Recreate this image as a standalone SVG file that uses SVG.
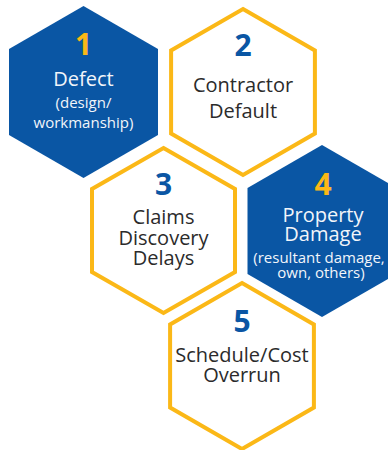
<svg xmlns="http://www.w3.org/2000/svg" width="388" height="450" viewBox="0 0 388 450">
<style>
.fill{fill:#0a56a4;}
.line{fill:#fff;stroke:#fbb817;stroke-width:4;stroke-linejoin:miter;}
text{font-family:"Open Sans","Noto Sans",sans-serif;text-anchor:middle;}
.num{font-size:30px;font-weight:bold;}
.ny{fill:#fbb817;}
.nb{fill:#0a56a4;}
.t{font-size:20px;}
.s{font-size:15px;}
.w{fill:#f2f5fa;}
.d{fill:#2b2b2b;}
</style>
<rect width="388" height="450" fill="#fff"/>
<g id="node1">
<polygon class="fill" points="83.5,6 158,49 158,135 83.5,178 9,135 9,49"/>
<text class="num ny" x="83.5" y="55">1</text>
<text class="t w" x="83.5" y="86">Defect</text>
<text class="s w" x="83.5" y="108">(design/</text>
<text class="s w" x="83.5" y="128">workmanship)</text>
</g>
<g id="node2">
<polygon class="line" points="243,9 314.9,50.5 314.9,133.5 243,175 171.1,133.5 171.1,50.5"/>
<text class="num nb" x="243" y="56">2</text>
<text class="t d" x="243" y="92">Contractor</text>
<text class="t d" x="243" y="118">Default</text>
</g>
<g id="node3">
<polygon class="line" points="163.5,148 235,189 235,272 163.5,313 92,272 92,189"/>
<text class="num nb" x="163.5" y="195">3</text>
<text class="t d" x="163.5" y="224">Claims</text>
<text class="t d" x="163.5" y="244.5">Discovery</text>
<text class="t d" x="163.5" y="265">Delays</text>
</g>
<g id="node4">
<polygon class="fill" points="322,145 396.5,188 396.5,274 322,317 247.5,274 247.5,188"/>
<text class="num ny" x="323" y="195">4</text>
<text class="t w" x="323" y="222">Property</text>
<text class="t w" x="323" y="241">Damage</text>
<text class="s w" x="319" y="263">(resultant damage,</text>
<text class="s w" x="321" y="278">own, others)</text>
</g>
<g id="node5">
<polygon class="line" points="242,283 313.9,324.5 313.9,407.5 242,449 170.1,407.5 170.1,324.5"/>
<text class="num nb" x="242" y="332">5</text>
<text class="t d" x="242" y="362">Schedule/Cost</text>
<text class="t d" x="242" y="382">Overrun</text>
</g>
</svg>
